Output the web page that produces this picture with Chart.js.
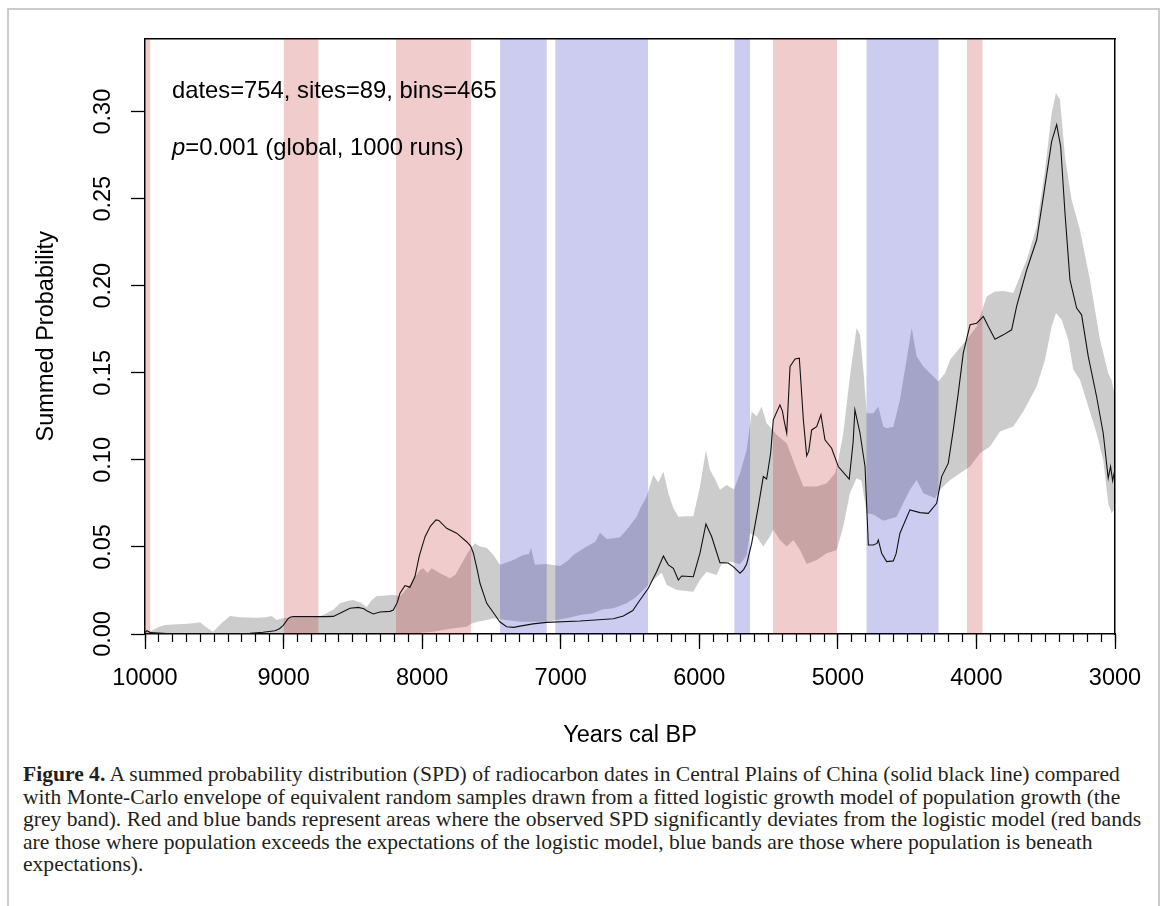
<!DOCTYPE html>
<html><head><meta charset="utf-8">
<script src="https://cdn.jsdelivr.net/npm/chart.js@4.4.1/dist/chart.umd.min.js"></script>
<style>
html,body{margin:0;padding:0;background:#fff;}
body{width:1171px;height:906px;position:relative;overflow:hidden;}
#frame{position:absolute;left:7px;top:8px;width:1153px;height:960px;border:2px solid #cbcbcb;box-sizing:border-box;}
#c{position:absolute;left:0;top:0;}
.ann{position:absolute;font-family:'Liberation Sans',Arial,sans-serif;font-size:23.8px;color:#000;white-space:nowrap;line-height:24px;}
.cap{position:absolute;left:23px;font-family:'Liberation Serif','Times New Roman',serif;color:#231f20;white-space:nowrap;}
</style></head><body>
<div id="frame"></div>
<canvas id="c" width="1171" height="760"></canvas>
<div class="ann" style="left:172px;top:78px">dates=754, sites=89, bins=465</div>
<div class="ann" style="left:172px;top:135px"><i>p</i>=0.001 (global, 1000 runs)</div>
<div id="caption"></div>
<script>
// ---------- data ----------
const spdYears = [10000,9985,9960,9900,9843,9700,9500,9314,9242,9148,9062,9030,9002,8970,8954,8930,8800,8700,8641,8593,8521,8461,8420,8400,8352,8304,8232,8208,8180,8160,8124,8100,8088,8052,8020,7979,7940,7900,7880,7823,7751,7679,7650,7630,7600,7582,7534,7474,7440,7390,7340,7294,7200,7101,6861,6620,6548,6480,6428,6368,6308,6259,6240,6223,6187,6151,6127,6043,5995,5952,5911,5851,5791,5755,5706,5680,5658,5622,5574,5538,5514,5485,5466,5418,5400,5389,5369,5345,5309,5278,5249,5225,5210,5189,5153,5122,5093,5045,4997,4918,4890,4877,4840,4804,4780,4744,4718,4708,4684,4648,4600,4580,4552,4480,4407,4347,4287,4251,4203,4167,4131,4095,4046,3998,3950,3914,3866,3806,3746,3710,3637,3565,3517,3457,3421,3392,3361,3325,3277,3241,3193,3133,3085,3049,3032,3017,3000];
const spdValues = [0.001,0.0019,0.0008,0.0005,0.0003,0.0001,0.0001,0.0002,0.0004,0.001,0.0019,0.003,0.005,0.0085,0.0096,0.0100,0.0100,0.0100,0.0101,0.0119,0.0148,0.0153,0.0145,0.0134,0.0115,0.0126,0.0130,0.0138,0.018,0.0234,0.0278,0.0272,0.0268,0.033,0.045,0.0559,0.062,0.0655,0.0652,0.0607,0.0579,0.053,0.0505,0.0464,0.036,0.029,0.0176,0.0109,0.007,0.0042,0.0038,0.0045,0.0058,0.0067,0.0075,0.0088,0.0103,0.0135,0.0195,0.0263,0.0358,0.0448,0.042,0.0397,0.0377,0.031,0.0333,0.0329,0.0464,0.0632,0.056,0.041,0.0408,0.0387,0.0349,0.037,0.0402,0.0521,0.0732,0.0904,0.089,0.1038,0.123,0.1316,0.128,0.123,0.1153,0.1536,0.1579,0.1584,0.123,0.1023,0.105,0.1172,0.1191,0.1259,0.1115,0.1067,0.0962,0.0889,0.11,0.1287,0.1153,0.0962,0.0511,0.0511,0.052,0.054,0.0464,0.0416,0.042,0.046,0.0579,0.0713,0.0697,0.0693,0.0751,0.0904,0.0981,0.1172,0.1383,0.1613,0.1776,0.1785,0.1824,0.1766,0.1693,0.1718,0.1747,0.1881,0.2092,0.2264,0.2513,0.2829,0.2925,0.28,0.2418,0.2034,0.1872,0.1833,0.1594,0.1364,0.1153,0.0895,0.0962,0.088,0.095];

const hiYears = [10000,9950,9900,9856,9800,9726,9650,9603,9560,9509,9450,9387,9314,9250,9194,9130,9086,9050,9000,8900,8800,8750,8689,8640,8593,8540,8499,8440,8400,8370,8328,8280,8232,8200,8160,8100,8066,8015,7992,7960,7931,7871,7799,7760,7727,7667,7619,7582,7534,7486,7438,7390,7342,7270,7230,7214,7186,7101,7005,6950,6909,6813,6750,6717,6668,6620,6572,6524,6452,6428,6380,6332,6296,6259,6223,6187,6151,6100,6043,5995,5952,5923,5880,5851,5802,5750,5706,5658,5622,5586,5550,5514,5470,5442,5369,5297,5249,5153,5080,5020,4997,4961,4913,4865,4840,4812,4792,4744,4708,4672,4648,4600,4552,4504,4467,4431,4383,4323,4275,4227,4190,4131,4070,3998,3926,3866,3800,3734,3686,3637,3565,3505,3457,3426,3397,3361,3313,3253,3181,3108,3049,3025,3000];
const hiValues = [0.001,0.002,0.004,0.0052,0.0055,0.0057,0.0062,0.0067,0.004,0.0013,0.006,0.0103,0.0096,0.0095,0.0094,0.0096,0.0103,0.008,0.0092,0.0095,0.0095,0.0098,0.0119,0.014,0.0176,0.019,0.0195,0.018,0.0153,0.019,0.0218,0.022,0.0224,0.0224,0.0215,0.027,0.031,0.0368,0.0377,0.035,0.0377,0.0349,0.032,0.034,0.0387,0.0473,0.0521,0.0502,0.0495,0.0454,0.0397,0.041,0.0425,0.0454,0.046,0.0496,0.0397,0.0402,0.039,0.042,0.0454,0.0502,0.053,0.0582,0.0546,0.055,0.0555,0.0598,0.0674,0.072,0.0789,0.0914,0.087,0.0933,0.0809,0.0722,0.0674,0.0676,0.0676,0.0847,0.1057,0.0943,0.088,0.0828,0.0856,0.083,0.0923,0.1057,0.1278,0.125,0.1306,0.1211,0.1172,0.1144,0.1096,0.0943,0.0847,0.0847,0.0866,0.0923,0.1,0.1153,0.1479,0.1757,0.172,0.1479,0.1268,0.1268,0.1306,0.1191,0.1182,0.119,0.1345,0.1575,0.1757,0.1594,0.1536,0.1489,0.145,0.1498,0.1575,0.1632,0.169,0.1766,0.1939,0.1967,0.197,0.1958,0.2054,0.2149,0.2341,0.2667,0.2992,0.3107,0.3069,0.2743,0.2494,0.2322,0.2034,0.169,0.1498,0.146,0.1364];

const loYears = [10000,8100,7922,7800,7679,7643,7600,7534,7486,7438,7294,7101,6957,6850,6765,6700,6620,6524,6460,6428,6380,6332,6271,6235,6163,6043,5995,5947,5875,5839,5779,5706,5660,5634,5586,5538,5490,5466,5418,5369,5321,5273,5225,5153,5080,5008,4961,4913,4865,4829,4792,4744,4672,4576,4480,4431,4383,4299,4263,4190,4118,4046,3974,3902,3830,3734,3662,3565,3505,3457,3426,3385,3337,3301,3253,3193,3133,3085,3049,3025,3000];
const loValues = [0,0,0.0013,0.003,0.0042,0.006,0.0071,0.008,0.009,0.0085,0.0071,0.0071,0.009,0.011,0.0119,0.014,0.0148,0.0176,0.021,0.0234,0.0272,0.031,0.0352,0.0282,0.0253,0.0243,0.031,0.0358,0.0339,0.0402,0.0416,0.040,0.045,0.0579,0.056,0.0502,0.056,0.0598,0.054,0.0502,0.054,0.0483,0.0402,0.0425,0.0464,0.0483,0.0617,0.0809,0.0895,0.088,0.0693,0.0686,0.065,0.0674,0.0828,0.0885,0.0809,0.078,0.0828,0.0885,0.0923,0.0962,0.1038,0.1077,0.1163,0.1191,0.1278,0.1421,0.1575,0.1766,0.1843,0.1805,0.169,0.1517,0.146,0.1306,0.1153,0.1,0.0751,0.0693,0.072];

const redStart = [10000, 9000, 8190, 5468, 4068];
const redEnd   = [9960, 8747, 7645, 5005, 3955];
const blueStart = [7438, 7040, 5748, 4795];
const blueEnd   = [7100, 6370, 5633, 4272];

const xMajorTicks = [10000, 9000, 8000, 7000, 6000, 5000, 4000, 3000];
const xMajorLabels = ["10000","9000","8000","7000","6000","5000","4000","3000"];
const yTickValues = [0, 0.05, 0.10, 0.15, 0.20, 0.25, 0.30];
const yTickLabels = ["0.00","0.05","0.10","0.15","0.20","0.25","0.30"];
const xMinorStep = 100;
const X_MIN = 3000, X_MAX = 10000, Y_MIN = 0, Y_MAX = 0.342;

// ---------- build ----------
const pairs = (xs, ys) => xs.map((x, i) => ({x: x, y: ys[i]})).sort((a, b) => a.x - b.x);
const xMinorTicks = [];
for (let v = X_MIN; v <= X_MAX; v += xMinorStep) xMinorTicks.push(v);

const FONT = "'Liberation Sans', Arial, Helvetica, sans-serif";
const FS = 23.5;
const ENV_COL = 'rgba(0,0,0,0.2)';
const POS_COL = 'rgba(179,0,0,0.2)';
const NEG_COL = 'rgba(0,0,179,0.2)';
const NONE = 'rgba(0,0,0,0)';

const datasets = [];
datasets.push({label:'SPD', data: pairs(spdYears, spdValues), borderColor:'#111', borderWidth:1.1, pointRadius:0, fill:false, order:0, tension:0});
datasets.push({label:'lo', data: pairs(loYears, loValues), borderColor:NONE, borderWidth:0, pointRadius:0, fill:false, order:5});
datasets.push({label:'hi', data: pairs(hiYears, hiValues), borderColor:NONE, borderWidth:0, pointRadius:0, fill:{target:1}, backgroundColor:ENV_COL, order:4});
redStart.forEach((s, i) => datasets.push({label:'pos'+i, data: pairs([s, redEnd[i]], [Y_MIN, Y_MIN]), borderColor:NONE, borderWidth:0, pointRadius:0, fill:'end', backgroundColor:POS_COL, order:2}));
blueStart.forEach((s, i) => datasets.push({label:'neg'+i, data: pairs([s, blueEnd[i]], [Y_MIN, Y_MIN]), borderColor:NONE, borderWidth:0, pointRadius:0, fill:'end', backgroundColor:NEG_COL, order:2}));

new Chart(document.getElementById('c'), {
  type: 'line',
  data: { datasets },
  options: {
    responsive: false, animation: false, devicePixelRatio: 1,
    layout: { padding: { top: 38.5, right: 56, left: 0, bottom: 0 } },
    plugins: { legend: {display:false}, tooltip: {enabled:false} },
    scales: {
      x: {
        type:'linear', position:'bottom', min:X_MIN, max:X_MAX, reverse:true, weight:1,
        afterBuildTicks: s => { s.ticks = xMajorTicks.map(v => ({value:v})); },
        afterFit: s => { s.height = 126; },
        ticks: { autoSkip:false, minRotation:0, maxRotation:0, padding:15, color:'#000', font:{family:FONT, size:FS},
                 callback: (v) => xMajorLabels[xMajorTicks.indexOf(v)] },
        grid: { display:true, drawOnChartArea:false, drawTicks:true, tickLength:15, color:'#000', tickWidth:1.3 },
        border: { display:true, color:'#000', width:1.5 },
        title: { display:true, text:'Years cal BP', color:'#000', font:{family:FONT, size:FS}, padding:{top:0, bottom:10} }
      },
      xm: {
        type:'linear', position:'bottom', min:X_MIN, max:X_MAX, reverse:true, weight:0,
        afterBuildTicks: s => { s.ticks = xMinorTicks.map(v => ({value:v})); },
        afterFit: s => { s.height = 0; },
        ticks: { display:false },
        grid: { display:true, drawOnChartArea:false, drawTicks:true, tickLength:8, color:'#000', tickWidth:1.2 },
        border: { display:false }
      },
      x2: {
        type:'linear', position:'top', min:X_MIN, max:X_MAX,
        afterFit: s => { s.height = 0; },
        ticks: { display:false }, grid: { display:false, drawTicks:false },
        border: { display:true, color:'#000', width:1.5 }
      },
      y: {
        type:'linear', position:'left', min:Y_MIN, max:Y_MAX,
        afterBuildTicks: s => { s.ticks = yTickValues.map(v => ({value:v})); },
        afterFit: s => { s.width = 145; },
        ticks: { minRotation:90, maxRotation:90, crossAlign:'center', padding:5, color:'#000', font:{family:FONT, size:FS},
                 callback: (v) => yTickLabels[yTickValues.findIndex(t => Math.abs(t - v) < 1e-9)] },
        grid: { display:true, drawOnChartArea:false, drawTicks:true, tickLength:14, color:'#000', tickWidth:1.3 },
        border: { display:true, color:'#000', width:1.5 },
        title: { display:true, text:'Summed Probability', color:'#000', font:{family:FONT, size:FS}, padding:{top:32, bottom:0} }
      },
      y2: {
        type:'linear', position:'right', min:Y_MIN, max:Y_MAX,
        afterFit: s => { s.width = 0; },
        ticks: { display:false }, grid: { display:false, drawTicks:false },
        border: { display:true, color:'#000', width:1.5 }
      }
    }
  }
});

// ---------- caption ----------
const capLines = [
  '<b>Figure 4.</b> A summed probability distribution (SPD) of radiocarbon dates in Central Plains of China (solid black line) compared',
  'with Monte-Carlo envelope of equivalent random samples drawn from a fitted logistic growth model of population growth (the',
  'grey band). Red and blue bands represent areas where the observed SPD significantly deviates from the logistic model (red bands',
  'are those where population exceeds the expectations of the logistic model, blue bands are those where population is beneath',
  'expectations).'
];
const cap = document.getElementById('caption');
const probe = document.createElement('div');
probe.className = 'cap'; probe.style.fontSize = '20px'; probe.style.visibility = 'hidden';
probe.innerHTML = capLines[0];
document.body.appendChild(probe);
const w20 = probe.getBoundingClientRect().width;
probe.remove();
const F = 20 * 1098 / w20;
const L = 22.5, firstBase = 782;
capLines.forEach((t, i) => {
  const d = document.createElement('div');
  d.className = 'cap';
  d.style.fontSize = F + 'px';
  d.style.lineHeight = L + 'px';
  const base = firstBase + i * L;
  d.style.top = (base - ((L - 1.107 * F) / 2 + 0.891 * F)) + 'px';
  d.innerHTML = t;
  cap.appendChild(d);
});
</script>
</body></html>
